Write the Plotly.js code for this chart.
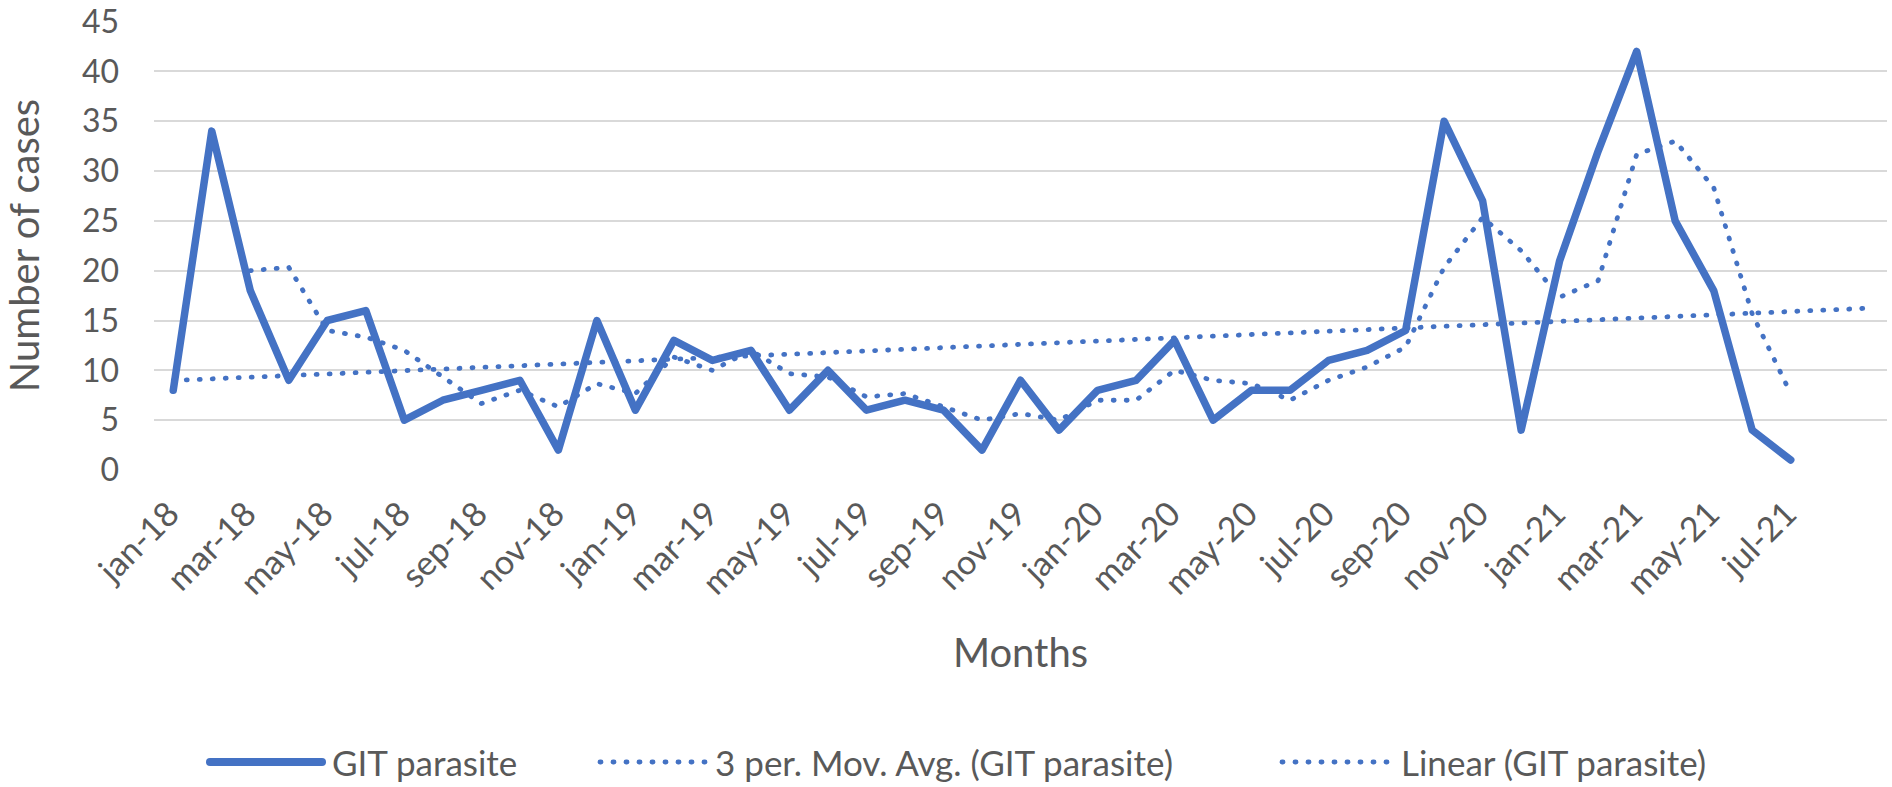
<!DOCTYPE html>
<html>
<head>
<meta charset="utf-8">
<script src="https://cdn.plot.ly/plotly-3.0.1.min.js"></script>
<style>
  html, body { margin: 0; padding: 0; background: #fff; }
  #git-chart .js-line { stroke-linecap: round; stroke-linejoin: round; }
  #git-chart .shapelayer path { stroke-linecap: round; }
</style>
</head>
<body>
<div id="git-chart" style="width:1892px;height:787px;"></div>
<script>
// monthly GIT parasite cases, jan-18 .. jul-21
var months = ['jan-18','feb-18','mar-18','apr-18','may-18','jun-18','jul-18','aug-18','sep-18','oct-18','nov-18','dec-18',
              'jan-19','feb-19','mar-19','apr-19','may-19','jun-19','jul-19','aug-19','sep-19','oct-19','nov-19','dec-19',
              'jan-20','feb-20','mar-20','apr-20','may-20','jun-20','jul-20','aug-20','sep-20','oct-20','nov-20','dec-20',
              'jan-21','feb-21','mar-21','apr-21','may-21','jun-21','jul-21'];

var cases = [8, 34, 18, 9, 15, 16, 5, 7, 8, 9, 2, 15,
             6, 13, 11, 12, 6, 10, 6, 7, 6, 2, 9, 4,
             8, 9, 13, 5, 8, 8, 11, 12, 14, 35, 27, 4,
             21, 32, 42, 25, 18, 4, 1];

var seriesNames = ['GIT parasite', '3 per. Mov. Avg. (GIT parasite)', 'Linear (GIT parasite)'];

var yTicks = [0, 5, 10, 15, 20, 25, 30, 35, 40, 45];

var blue = '#4472C4';
var grey = '#595959';
var dotted = '1px,12px';

var idx = months.map(function (m, i) { return i; });

// 3 period moving average (starts at the third month)
var maX = [], maY = [];
for (var i = 2; i < cases.length; i++) {
  maX.push(i);
  maY.push((cases[i] + cases[i - 1] + cases[i - 2]) / 3);
}

// least squares trend, forecast 2 periods forward
var n = cases.length, sx = 0, sy = 0, sxy = 0, sxx = 0;
for (var k = 0; k < n; k++) { sx += k; sy += cases[k]; sxy += k * cases[k]; sxx += k * k; }
var slope = (n * sxy - sx * sy) / (n * sxx - sx * sx);
var icpt = (sy - slope * sx) / n;
var trendX = [0, n - 1 + 2];
var trendY = trendX.map(function (x) { return icpt + slope * x; });

var tickIdx = idx.filter(function (i) { return i % 2 === 0; });
var tickTxt = tickIdx.map(function (i) { return months[i]; });

var trace1 = {
  x: idx, y: cases, name: seriesNames[0], type: 'scatter', mode: 'lines',
  line: { color: blue, width: 7.5 }
};
var trace2 = {
  x: maX, y: maY, name: seriesNames[1], type: 'scatter', mode: 'lines',
  line: { color: blue, width: 4.8, dash: dotted }
};
var trace3 = {
  x: trendX, y: trendY, name: seriesNames[2], type: 'scatter', mode: 'lines',
  line: { color: blue, width: 4.8, dash: dotted }
};

// plot box in pixels, used to place the hand made legend
var W = 1892, H = 787, L = 154, R = 5, T = 21, B = 317;
var pw = W - L - R, ph = H - T - B;
function px(x) { return (x - L) / pw; }
function py(y) { return (H - B - y) / ph; }

var legendY = 762;
var legendItems = [
  { x0: 210, x1: 322, tx: 330, dash: 'solid', w: 8 },
  { x0: 600, x1: 705, tx: 713, dash: dotted, w: 4.8 },
  { x0: 1282, x1: 1393, tx: 1399, dash: dotted, w: 4.8 }
];

var shapes = [], annotations = [];
legendItems.forEach(function (it, j) {
  shapes.push({
    type: 'line', xref: 'paper', yref: 'paper',
    x0: px(it.x0), x1: px(it.x1), y0: py(legendY), y1: py(legendY),
    line: { color: blue, width: it.w, dash: it.dash }
  });
  annotations.push({
    xref: 'paper', yref: 'paper', x: px(it.tx), y: py(legendY),
    xanchor: 'left', yanchor: 'middle', showarrow: false,
    text: seriesNames[j], font: { size: 35, color: grey }
  });
});

var layout = {
  width: W, height: H,
  margin: { l: L, r: R, t: T, b: B },
  paper_bgcolor: '#fff', plot_bgcolor: '#fff',
  font: { family: 'Lato, "Open Sans", sans-serif', color: grey, size: 32 },
  showlegend: false,
  xaxis: {
    range: [-0.5, 44.5],
    tickvals: tickIdx, ticktext: tickTxt, tickangle: -45,
    showgrid: false, zeroline: false, showline: false, ticks: '',
    ticklabelstandoff: 16, ticklabelshift: -4,
    tickfont: { size: 34, color: grey },
    title: { text: 'Months', font: { size: 40, color: grey }, standoff: 38 },
    automargin: false
  },
  yaxis: {
    range: [0, 45.05],
    tickvals: yTicks,
    showgrid: true, gridcolor: '#D9D9D9', gridwidth: 2,
    zeroline: false, showline: false, ticks: '',
    ticklabelstandoff: 34,
    tickfont: { size: 32, color: grey },
    title: { text: 'Number of cases', font: { size: 40, color: grey }, standoff: 30 },
    automargin: false
  },
  shapes: shapes,
  annotations: annotations
};

Plotly.newPlot('git-chart', [trace1, trace2, trace3], layout, { displayModeBar: false, staticPlot: true });
</script>
</body>
</html>
